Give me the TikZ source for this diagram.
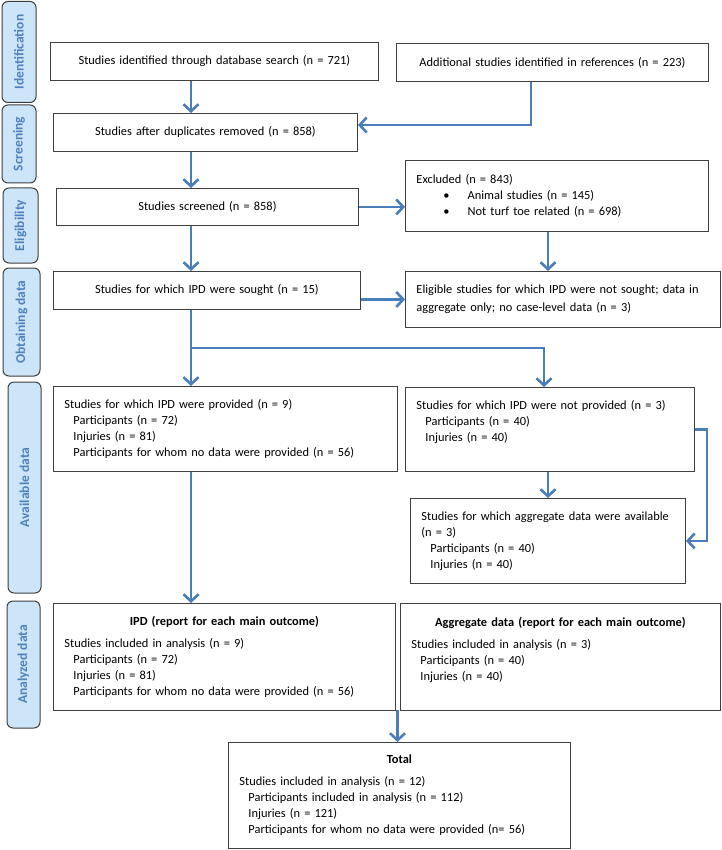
\documentclass[tikz,border=0pt]{standalone}
\usepackage{fontspec}
\setmainfont{Carlito}
\usetikzlibrary{arrows.meta}
\definecolor{flowblue}{HTML}{4A7EBB}
\definecolor{stagefill}{HTML}{CCE5F8}
\definecolor{stagetext}{HTML}{4F81BD}
\definecolor{boxline}{HTML}{3F3F3F}
\begin{document}
\begin{tikzpicture}[x=1pt,y=-1pt,
  box/.style={draw=boxline, line width=0.9pt, anchor=north west, inner sep=0pt, align=center, font=\fontsize{12.4}{16}\selectfont},
  leftbox/.style={box, align=left, inner xsep=11pt},
  stage/.style={draw=boxline, fill=stagefill, line width=1pt, rounded corners=6pt, rotate=90, inner sep=0pt, text=stagetext, font=\fontsize{13.5}{16}\selectfont\bfseries},
  arr/.style={draw=flowblue, line width=2.6pt, -{Straight Barb[length=7pt,width=15pt]}}
]
\useasboundingbox[fill=white] (0,0) rectangle (721,850);

% stages
\node[stage, minimum width=101pt, minimum height=34pt] (ident) at (19,52) {Identification};
\node[stage, minimum width=78pt, minimum height=34pt] (screen) at (19,144) {Screening};
\node[stage, minimum width=75pt, minimum height=35pt] (elig) at (20.5,225.5) {Eligibility};
\node[stage, minimum width=108pt, minimum height=37pt] (obtain) at (21.5,322) {Obtaining data};
\node[stage, minimum width=211pt, minimum height=33pt] (avail) at (24.5,487.5) {Available data};
\node[stage, minimum width=127pt, minimum height=33pt] (analyzed) at (23.5,664.5) {Analyzed data};

% boxes
\node[box, text width=328pt, minimum height=38pt] (dbsearch) at (50,42) {Studies identified through database search (n = 721)};
\node[box, text width=312pt, minimum height=38pt] (refs) at (396,43) {Additional studies identified in references (n = 223)};
\node[box, text width=304pt, minimum height=38pt] (dedup) at (53,113) {Studies after duplicates removed (n = 858)};
\node[box, text width=302pt, minimum height=37pt] (screened) at (56,188) {Studies screened (n = 858)};
\node[leftbox, text width=281pt, minimum height=71pt] (excluded) at (405,160) {Excluded (n = 843)\\
  \hspace*{27pt}\textbullet\hspace{18pt}Animal studies (n = 145)\\
  \hspace*{27pt}\textbullet\hspace{18pt}Not turf toe related (n = 698)};
\node[box, text width=307pt, minimum height=38pt] (sought) at (53,271) {Studies for which IPD were sought (n = 15)};
\node[leftbox, text width=293pt, minimum height=56pt, font=\fontsize{12.4}{18}\selectfont] (notsought) at (405,271) {Eligible studies for which IPD were not sought; data in\\ aggregate only; no case-level data (n = 3)};
\node[leftbox, text width=322pt, minimum height=85pt] (provided) at (53,386) {Studies for which IPD were provided (n = 9)\\
  \hspace*{9pt}Participants (n = 72)\\
  \hspace*{9pt}Injuries (n = 81)\\
  \hspace*{9pt}Participants for whom no data were provided (n = 56)};
\node[leftbox, text width=267pt, minimum height=84pt] (notprov) at (405,387) {Studies for which IPD were not provided (n = 3)\\
  \hspace*{9pt}Participants (n = 40)\\
  \hspace*{9pt}Injuries (n = 40)\\ ~};
\node[leftbox, text width=253pt, minimum height=85pt] (aggavail) at (410,498) {Studies for which aggregate data were available\\ (n = 3)\\
  \hspace*{9pt}Participants (n = 40)\\
  \hspace*{9pt}Injuries (n = 40)};
\node[leftbox, text width=320pt, minimum height=107pt] (ipdres) at (53,603) {\makebox[320pt][c]{\bfseries IPD (report for each main outcome)}\\[6pt]
  Studies included in analysis (n = 9)\\
  \hspace*{9pt}Participants (n = 72)\\
  \hspace*{9pt}Injuries (n = 81)\\
  \hspace*{9pt}Participants for whom no data were provided (n = 56)};
\node[leftbox, text width=298pt, minimum height=107pt] (aggres) at (400,603) {\makebox[298pt][c]{\bfseries Aggregate data (report for each main outcome)}\\[6pt]
  Studies included in analysis (n = 3)\\
  \hspace*{9pt}Participants (n = 40)\\
  \hspace*{9pt}Injuries (n = 40)\\ ~};
\node[leftbox, text width=320pt, minimum height=106pt] (total) at (228,742) {\makebox[320pt][c]{\bfseries Total}\\[6pt]
  Studies included in analysis (n = 12)\\
  \hspace*{9pt}Participants included in analysis (n = 112)\\
  \hspace*{9pt}Injuries (n = 121)\\
  \hspace*{9pt}Participants for whom no data were provided (n= 56)};

% arrows
\coordinate (spine) at (191,0);
\coordinate (refturn) at (531,125);
\coordinate (rightspine) at (548,0);
\coordinate (branch) at (191,348);
\coordinate (junc) at (544,0);
\coordinate (loopx) at (707,0);
\coordinate (merge) at (397.5,710);
\draw[arr] (dbsearch.south -| spine) -- (dedup.north -| spine);
\draw[arr] (refs.south -| refturn) -- (refturn) -- (dedup.east |- refturn);
\draw[arr] (dedup.south -| spine) -- (screened.north -| spine);
\draw[arr] (screened.east) -- (screened.east -| excluded.west);
\draw[arr] (excluded.south -| rightspine) -- (notsought.north -| rightspine);
\draw[arr] (screened.south -| spine) -- (sought.north -| spine);
\draw[arr] (sought.east |- notsought.west) -- (notsought.west);
\draw[arr] (sought.south -| spine) -- (provided.north -| spine);
\draw[arr] (branch) -| (notprov.north -| junc);
\draw[arr] (notprov.south -| rightspine) -- (aggavail.north -| rightspine);
\draw[arr] (notprov.east) -- (notprov.east -| loopx) |- (aggavail.east);
\draw[arr] (provided.south -| spine) -- (ipdres.north -| spine);
\draw[arr] (merge) -- (merge |- total.north);
\end{tikzpicture}
\end{document}
